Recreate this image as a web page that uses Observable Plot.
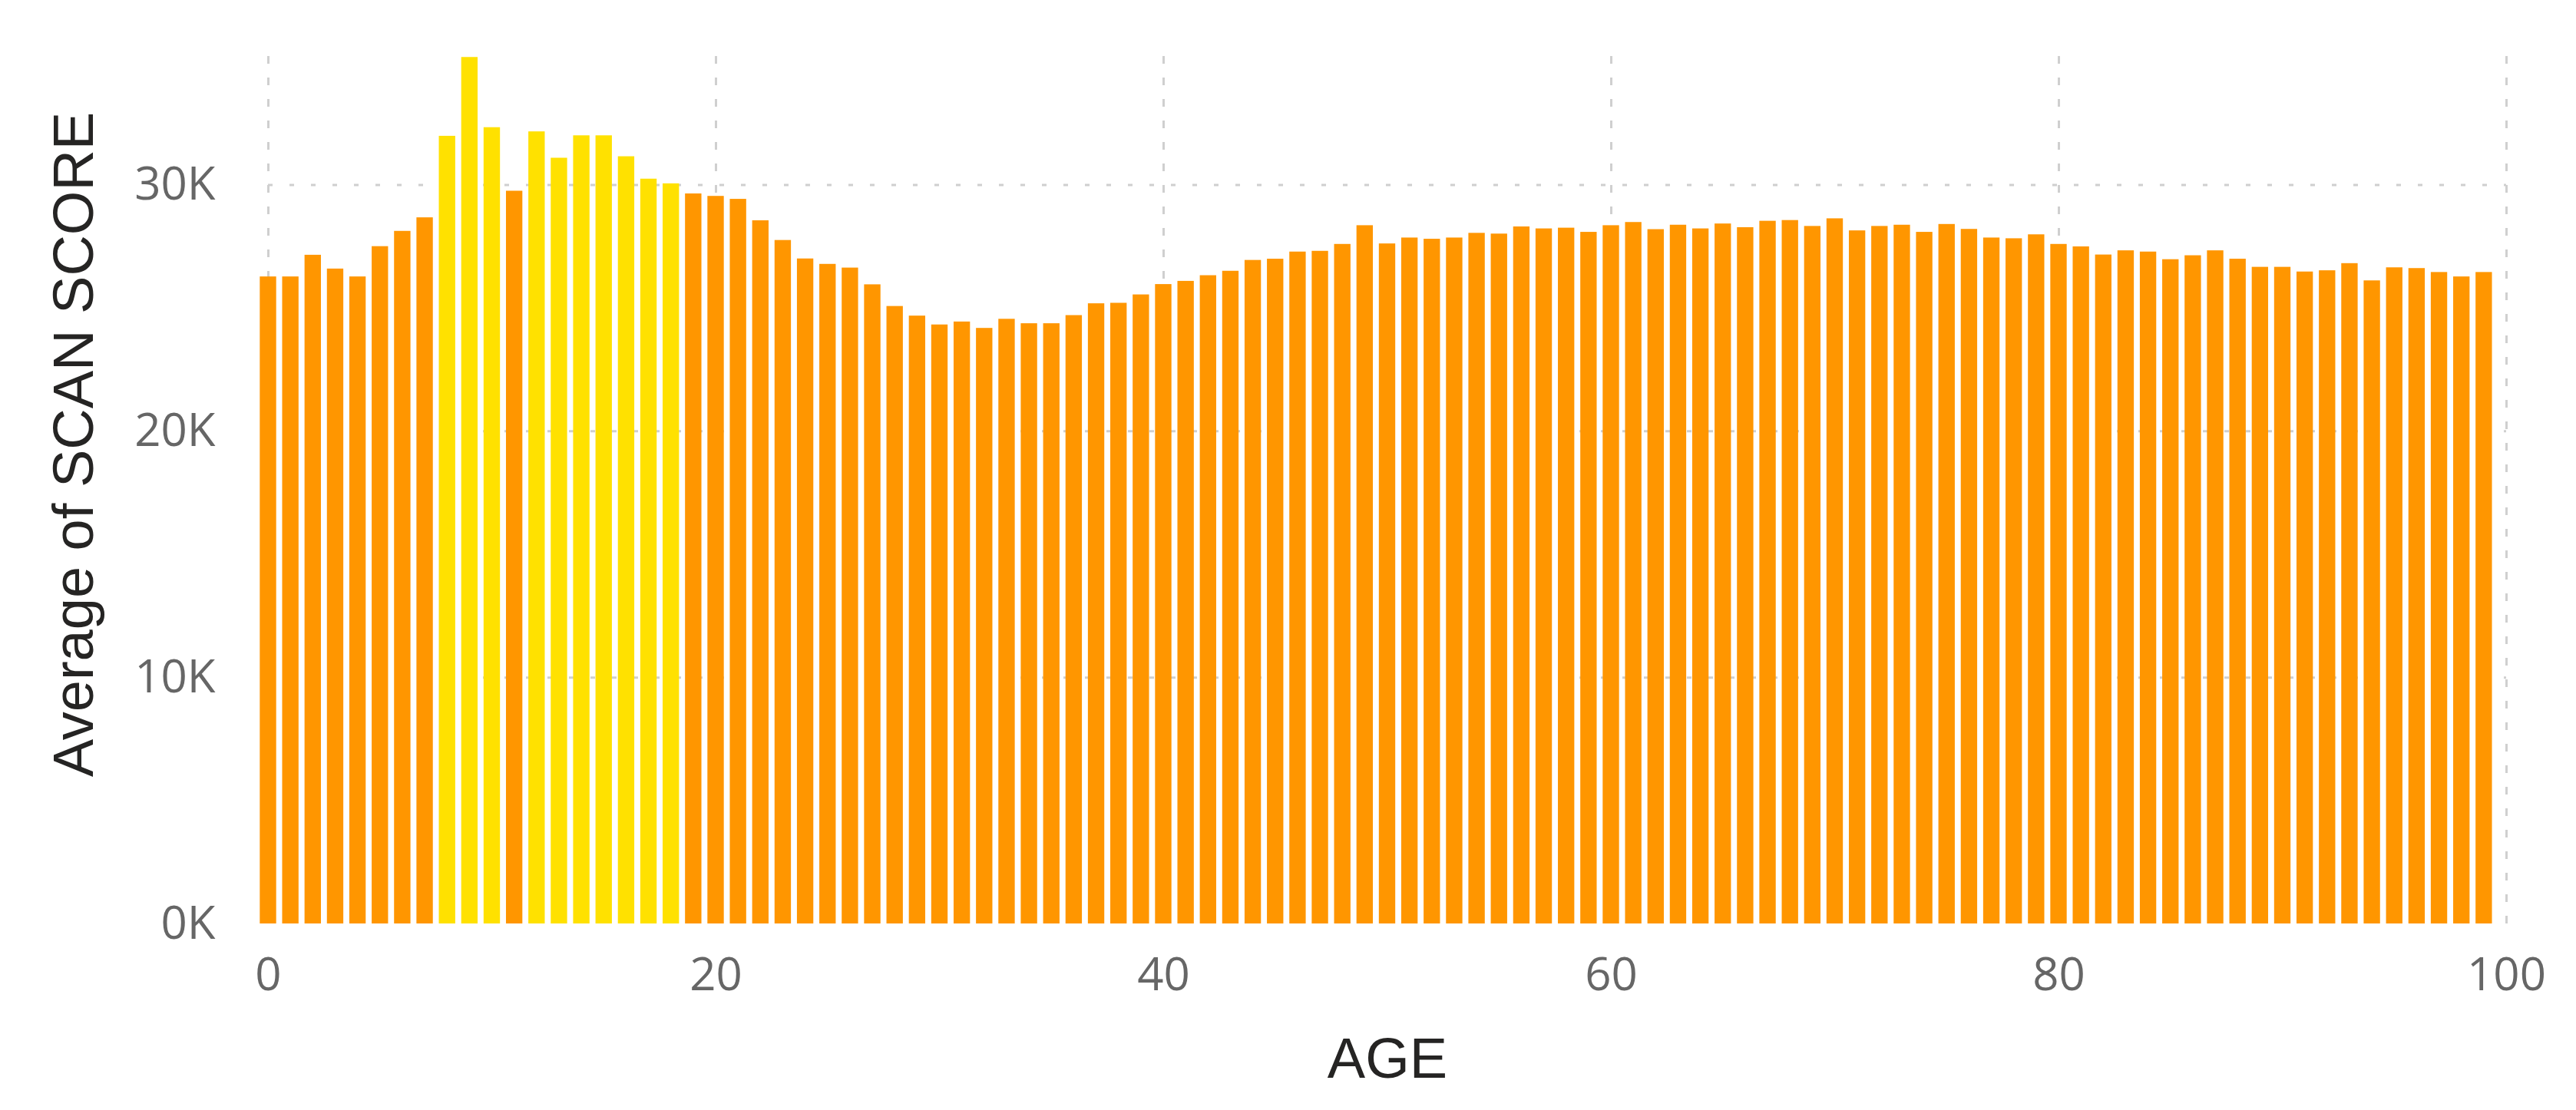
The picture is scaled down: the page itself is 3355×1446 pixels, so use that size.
<!DOCTYPE html>
<html>
<head>
<meta charset="utf-8">
<script src="https://cdn.jsdelivr.net/npm/d3@7"></script>
<script src="https://cdn.jsdelivr.net/npm/@observablehq/plot@0.6"></script>
<style>
  html, body { margin: 0; padding: 0; background: #ffffff; }
  #chart svg { display: block; }
</style>
</head>
<body>
<div id="chart"></div>
<script>
// Ages 0..99
const ages = d3.range(0, 100);
// Average of SCAN SCORE per age (in thousands)
const scoresK = [
  26.27, 26.27, 27.15, 26.59, 26.27, 27.50, 28.12, 28.67, 31.98, 35.18,
  32.33, 29.75, 32.16, 31.09, 32.00, 32.00, 31.15, 30.24, 30.05, 29.64,
  29.54, 29.42, 28.55, 27.75, 27.00, 26.78, 26.63, 25.95, 25.07, 24.68,
  24.32, 24.44, 24.18, 24.55, 24.37, 24.37, 24.70, 25.18, 25.20, 25.54,
  25.96, 26.09, 26.32, 26.50, 26.94, 26.99, 27.28, 27.31, 27.59, 28.35,
  27.61, 27.85, 27.80, 27.85, 28.04, 28.01, 28.30, 28.22, 28.25, 28.08,
  28.35, 28.48, 28.19, 28.37, 28.22, 28.42, 28.27, 28.53, 28.56, 28.32,
  28.63, 28.14, 28.32, 28.37, 28.08, 28.40, 28.20, 27.85, 27.82, 27.98,
  27.59, 27.49, 27.16, 27.33, 27.28, 26.97, 27.13, 27.33, 26.99, 26.66,
  26.66, 26.47, 26.52, 26.81, 26.11, 26.64, 26.61, 26.45, 26.27, 26.45
];
// Ages drawn in the highlight (yellow) colour
const highlightedAges = [8, 9, 10, 12, 13, 14, 15, 16, 17, 18];
const groups = ["normal", "highlight"];
const groupColors = ["#FF9600", "#FFE100"];
const xTicks = [0, 20, 40, 60, 80, 100];
const yTicks = [0, 10000, 20000, 30000];
const xTitle = "AGE";
const yTitle = "Average of SCAN SCORE";

const data = ages.map((a, i) => ({
  age: a,
  score: scoresK[i] * 1000,
  group: highlightedAges.includes(a) ? "highlight" : "normal"
}));

const W = 3355, H = 1446;
const tickFont = "'Open Sans', 'Noto Sans', sans-serif";
const titleFont = "'Liberation Sans', Arial, sans-serif";

const plot = Plot.plot({
  width: W,
  height: H,
  marginLeft: 349,
  marginRight: 91,
  marginTop: 64,
  marginBottom: 243,
  style: { background: "#ffffff", overflow: "visible" },
  x: { domain: [0, 100], label: null },
  y: { domain: [0, 35500], label: null },
  color: { domain: groups, range: groupColors },
  marks: [
    Plot.gridY(yTicks.filter(t => t > 0), {
      stroke: "#cfcfcf", strokeOpacity: 1, strokeWidth: 3, strokeDasharray: "6,22"
    }),
    Plot.gridX(xTicks, {
      stroke: "#cfcfcf", strokeOpacity: 1, strokeWidth: 3, strokeDasharray: "10,18", y1: 0, y2: 35500
    }),
    Plot.rectY(data, {
      x1: d => d.age - 0.5,
      x2: d => d.age + 0.5,
      y: "score",
      fill: "group",
      insetLeft: 3.9,
      insetRight: 3.9
    }),
    Plot.axisY({
      ticks: yTicks,
      tickSize: 0,
      tickPadding: 69,
      tickFormat: d => (d / 1000) + "K",
      fontSize: 60,
      fontFamily: tickFont,
      fill: "#666666",
      label: null
    }),
    Plot.axisX({
      ticks: xTicks,
      tickSize: 0,
      tickPadding: 44,
      tickFormat: d => String(d),
      fontSize: 60,
      fontFamily: tickFont,
      fill: "#666666",
      label: null
    }),
    Plot.text([xTitle], {
      text: d => d,
      frameAnchor: "bottom",
      dy: 177,
      fontSize: 74,
      fontFamily: titleFont,
      fill: "#252423",
      textAnchor: "middle",
      lineAnchor: "middle"
    }),
    Plot.text([yTitle], {
      text: d => d,
      frameAnchor: "left",
      rotate: -90,
      dx: -252,
      dy: -55,
      fontSize: 74,
      fontFamily: titleFont,
      fill: "#252423",
      textAnchor: "middle",
      lineAnchor: "middle"
    })
  ]
});

document.getElementById("chart").appendChild(plot);
</script>
</body>
</html>
